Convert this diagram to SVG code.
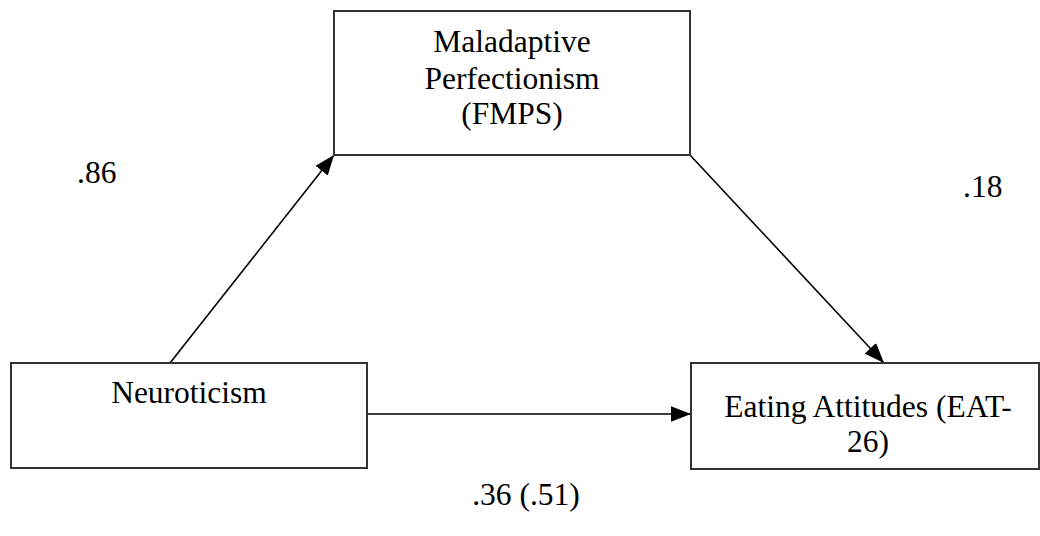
<svg xmlns="http://www.w3.org/2000/svg" width="1040" height="536" viewBox="0 0 1040 536">
<style>
.box{fill:#fff;stroke:#333;stroke-width:2}
.t{font-family:"Liberation Serif","Times New Roman",serif;font-size:31.5px;fill:#000}
.c{stroke:#000;stroke-width:1.6;fill:none;marker-end:url(#ah)}
</style>
<defs>
<marker id="ah" markerUnits="userSpaceOnUse" markerWidth="20" markerHeight="16" refX="18" refY="7" orient="auto" viewBox="0 0 18 14">
<path d="M0,0 L18,7 L0,14 Z" fill="#000"/>
</marker>
</defs>
<rect width="1040" height="536" fill="#fff"/>
<g id="connectors">
<line class="c" x1="170" y1="363" x2="334" y2="155"/>
<line class="c" x1="690" y1="155" x2="884" y2="363"/>
<line class="c" x1="367" y1="414" x2="691" y2="414"/>
</g>
<g id="node-perfectionism">
<rect class="box" x="334" y="11" width="356" height="144"/>
<text class="t" x="512" y="52" text-anchor="middle">Maladaptive</text>
<text class="t" x="512" y="89" text-anchor="middle">Perfectionism</text>
<text class="t" x="512" y="124" text-anchor="middle">(FMPS)</text>
</g>
<g id="node-neuroticism">
<rect class="box" x="11" y="363" width="356" height="105"/>
<text class="t" x="189" y="403" text-anchor="middle">Neuroticism</text>
</g>
<g id="node-eating">
<rect class="box" x="691" y="363" width="348" height="106"/>
<text class="t" x="868" y="417" text-anchor="middle">Eating Attitudes (EAT-</text>
<text class="t" x="868" y="452" text-anchor="middle">26)</text>
</g>
<g id="labels">
<text class="t" x="77" y="183">.86</text>
<text class="t" x="963" y="197">.18</text>
<text class="t" x="526" y="505" text-anchor="middle">.36 (.51)</text>
</g>
</svg>
